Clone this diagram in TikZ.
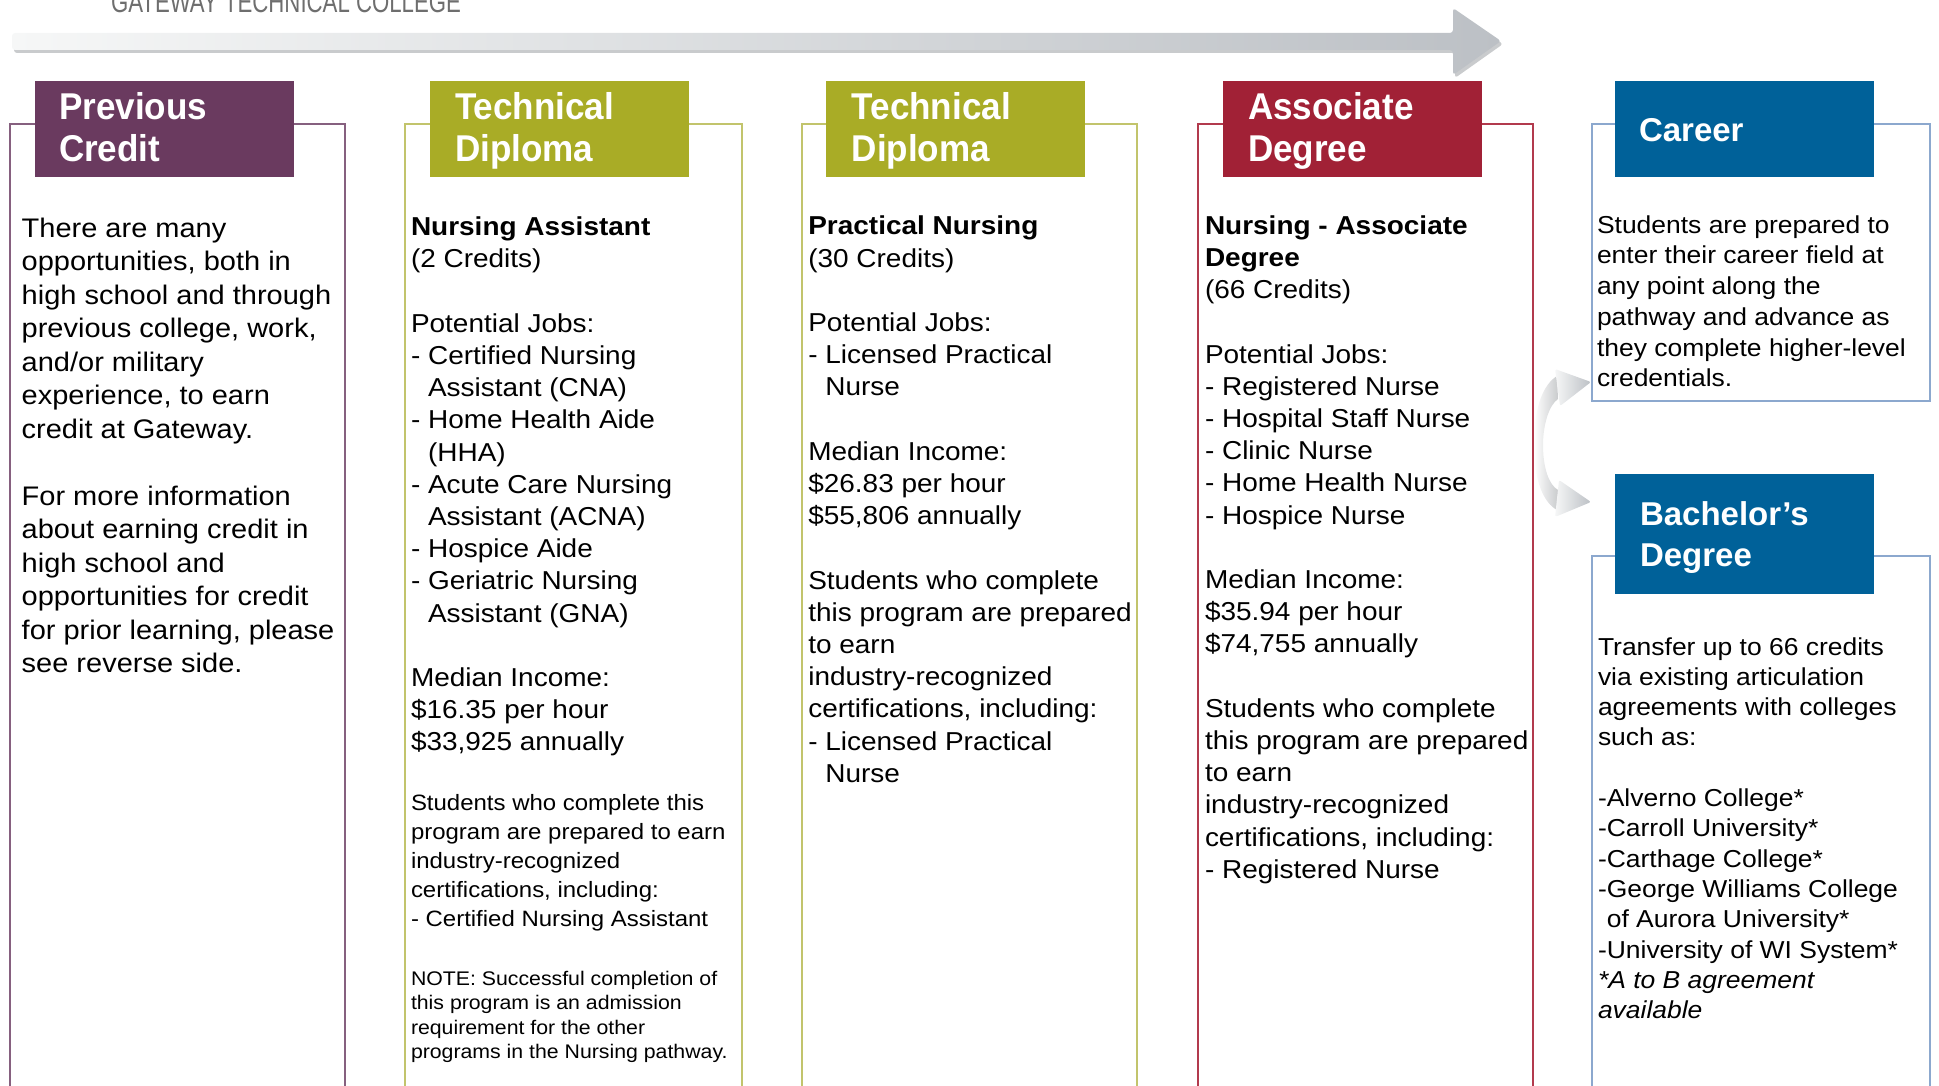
\documentclass[tikz,border=0pt]{standalone}
\usepackage{fontspec}
\setmainfont{Liberation Sans}
\newfontfamily\bodyfont[FakeStretch=1.08]{Liberation Sans}
\newfontfamily\headfont[FakeStretch=0.94]{Liberation Sans}
\newfontfamily\titlefont[FakeStretch=0.74]{Liberation Sans}
\definecolor{cpurple}{HTML}{6A3A5F}
\definecolor{colive}{HTML}{A9AC26}
\definecolor{cred}{HTML}{A12136}
\definecolor{cblue}{HTML}{006199}
\definecolor{bpurple}{HTML}{86607F}
\definecolor{bolive}{HTML}{C2C46C}
\definecolor{bred}{HTML}{B23A4D}
\definecolor{bblue}{HTML}{8CA8CE}
\definecolor{arrowlight}{HTML}{F6F7F7}
\definecolor{arrowdark}{HTML}{BCC0C5}
\definecolor{arrowshadow}{HTML}{C9CBCD}
\definecolor{titlegray}{HTML}{6E6E6E}
\newcommand{\para}[3]{\vtop{\hsize=600pt\parindent=0pt\parskip=0pt\fontsize{#1}{#2}\selectfont\leavevmode #3}}
\tikzset{
  boxline/.style={line width=1.5pt},
  hdr/.style={inner sep=0pt, outer sep=0pt, anchor=north west, minimum width=259pt, minimum height=96pt},
  txt/.style={anchor=base west, inner sep=0pt, outer sep=0pt},
  hdrtxt/.style={anchor=base west, inner sep=0pt, outer sep=0pt, text=white},
}
\begin{document}
\begin{tikzpicture}[x=1pt,y=-1pt]
\useasboundingbox (0,0) rectangle (1939,1086);
\clip (0,0) rectangle (1939,1086);

% title (cut off at top)
\node[txt, text=titlegray] (title) at (111,12.5) {\titlefont\fontsize{30}{30}\selectfont GATEWAY TECHNICAL COLLEGE};

% big progress arrow
\fill[arrowshadow, rounded corners=3] (14,36) -- (1455,36) -- (1455,11) -- (1503,44) -- (1455,78) -- (1455,53) -- (14,53) -- cycle;
\shade[left color=arrowlight, right color=arrowdark, rounded corners=3] (12,33) -- (1453,33) -- (1453,8) -- (1501,41) -- (1453,75) -- (1453,50) -- (12,50) -- cycle;

% column frames (open at the bottom)
\draw[boxline, bpurple] (10,1095) -- (10,124) -- (345,124) -- (345,1095);
\draw[boxline, bolive] (405,1095) -- (405,124) -- (742,124) -- (742,1095);
\draw[boxline, bolive] (802,1095) -- (802,124) -- (1137,124) -- (1137,1095);
\draw[boxline, bred] (1198,1095) -- (1198,124) -- (1533,124) -- (1533,1095);
\draw[boxline, bblue] (1592,124) rectangle (1930,401);
\draw[boxline, bblue] (1592,1095) -- (1592,556) -- (1930,556) -- (1930,1095);

% header blocks
\node[hdr, fill=cpurple] (h1) at (35,81) {};
\node[hdr, fill=colive] (h2) at (430,81) {};
\node[hdr, fill=colive] (h3) at (826,81) {};
\node[hdr, fill=cred] (h4) at (1223,81) {};
\node[hdr, fill=cblue] (h5) at (1615,81) {};
\node[hdr, fill=cblue, minimum height=120pt] (h6) at (1615,474) {};

\node[hdrtxt] (h1t) at (59,120) {\headfont\bfseries\para{37.3}{41.7}{Previous\\Credit}};
\node[hdrtxt] (h2t) at (455,120) {\headfont\bfseries\para{37.3}{41.7}{Technical\\Diploma}};
\node[hdrtxt] (h3t) at (851.7,120) {\headfont\bfseries\para{37.3}{41.7}{Technical\\Diploma}};
\node[hdrtxt] (h4t) at (1248,120) {\headfont\bfseries\para{37.3}{41.7}{Associate\\Degree}};
\node[hdrtxt] (h5t) at (1639,141.7) {\bfseries\fontsize{33}{40}\selectfont Career};
\node[hdrtxt] (h6t) at (1640,525) {\bfseries\para{33}{41.7}{Bachelor’s\\Degree}};

% column texts
\node[txt] (t1) at (21.7,237.3) {\bodyfont\para{26.85}{33.5}{There are many\\opportunities, both in\\high school and through\\previous college, work,\\and/or military\\experience, to earn\\credit at Gateway.\\\mbox{}\\For more information\\about earning credit in\\high school and\\opportunities for credit\\for prior learning, please\\see reverse side.}};

\node[txt] (t2) at (411,235.7) {\bodyfont\para{25.9}{32.2}{\textbf{Nursing Assistant}\\(2 Credits)\\\mbox{}\\Potential Jobs:\\- Certified Nursing\\\hphantom{- }Assistant (CNA)\\- Home Health Aide\\\hphantom{- }(HHA)\\- Acute Care Nursing\\\hphantom{- }Assistant (ACNA)\\- Hospice Aide\\- Geriatric Nursing\\\hphantom{- }Assistant (GNA)\\\mbox{}\\Median Income:\\\$16.35 per hour\\\$33,925 annually}};

\node[txt] (t2b) at (411,810) {\bodyfont\para{22.2}{29.2}{Students who complete this\\program are prepared to earn\\industry-recognized\\certifications, including:\\- Certified Nursing Assistant}};

\node[txt] (t2c) at (411,985) {\bodyfont\para{19.7}{24.5}{NOTE: Successful completion of\\this program is an admission\\requirement for the other\\programs in the Nursing pathway.}};

\node[txt] (t3) at (808.3,235) {\bodyfont\para{25.9}{32.2}{\textbf{Practical Nursing}\\(30 Credits)\\\mbox{}\\Potential Jobs:\\- Licensed Practical\\\hphantom{- }Nurse\\\mbox{}\\Median Income:\\\$26.83 per hour\\\$55,806 annually\\\mbox{}\\Students who complete\\this program are prepared\\to earn\\industry-recognized\\certifications, including:\\- Licensed Practical\\\hphantom{- }Nurse}};

\node[txt] (t4) at (1205,234.3) {\bodyfont\para{25.9}{32.2}{\textbf{Nursing - Associate}\\\textbf{Degree}\\(66 Credits)\\\mbox{}\\Potential Jobs:\\- Registered Nurse\\- Hospital Staff Nurse\\- Clinic Nurse\\- Home Health Nurse\\- Hospice Nurse\\\mbox{}\\Median Income:\\\$35.94 per hour\\\$74,755 annually\\\mbox{}\\Students who complete\\this program are prepared\\to earn\\industry-recognized\\certifications, including:\\- Registered Nurse}};

\node[txt] (t5) at (1597,233.3) {\bodyfont\para{24.5}{30.7}{Students are prepared to\\enter their career field at\\any point along the\\pathway and advance as\\they complete higher-level\\credentials.}};

\node[txt] (t6) at (1598,655) {\bodyfont\para{24.5}{30.3}{Transfer up to 66 credits\\via existing articulation\\agreements with colleges\\such as:\\\mbox{}\\-Alverno College*\\-Carroll University*\\-Carthage College*\\-George Williams College\\\hphantom{-}of Aurora University*\\-University of WI System*\\\textit{*A to B agreement}\\\textit{available}}};

% curved fork arrows from Associate Degree to Career / Bachelor's
\coordinate (fork) at (1536,445);
\coordinate (uptip) at (1591,382);
\coordinate (lotip) at (1591,502);
\shade[left color=white, right color=arrowshadow]
  (1534,445) .. controls (1534,405) and (1544,384) .. (1557,376)
  -- (1558,399) .. controls (1549,405) and (1543,425) .. (1543,445)
  .. controls (1543,468) and (1549,485) .. (1558,490)
  -- (1557,510) .. controls (1544,503) and (1534,482) .. cycle;
\shade[left color=arrowlight, right color=arrowdark, rounded corners=2] (1555,369) -- (uptip) -- (1560,406) -- cycle;
\shade[left color=arrowlight, right color=arrowdark, rounded corners=2] (1559,480) -- (lotip) -- (1555,517) -- cycle;
\end{tikzpicture}
\end{document}
